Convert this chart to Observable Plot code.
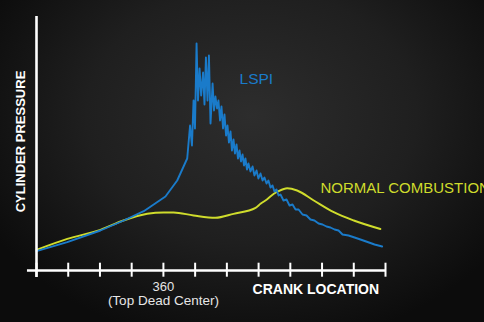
<!DOCTYPE html>
<html><head><meta charset="utf-8">
<script src="https://cdn.jsdelivr.net/npm/d3@7"></script>
<script src="https://cdn.jsdelivr.net/npm/@observablehq/plot@0.6"></script>
<style>
html,body{margin:0;padding:0;background:#0e0e0e;}
#chart{width:484px;height:322px;overflow:hidden;background:radial-gradient(ellipse 62% 72% at 52% 36%, #2d2d2d 0%, #1f1f1f 55%, #0c0c0c 100%);}
</style></head><body><div id="chart"></div>
<script>
// Crank location (degrees) and cylinder pressure (arbitrary units)
const lspiCrank = [280,299.4,320.3,335.0,347.6,361.3,368.7,375.0,376.8,378.0,379.0,379.9,380.9,381.8,382.8,383.8,385.0,385.9,386.8,387.8,388.7,389.7,391.0,391.9,392.8,393.8,394.7,395.7,396.6,397.6,398.5,399.5,400.4,401.3,402.3,403.2,404.2,405.1,406.1,407.0,408.0,408.9,409.9,410.8,411.7,412.7,413.6,414.9,416.2,417.4,418.7,419.9,421.2,422.5,423.7,425.0,426.2,427.5,428.8,430.0,431.3,432.6,433.8,435.7,437.6,439.5,441.4,443.3,445.2,447.7,450.2,452.7,455.2,457.8,460.3,462.8,465.3,467.9,470.4,472.9,476.7,480.5,484.2,488.7,493.1,497.9];
const lspiPressure = [19.3,28.3,40,50,59.3,74,90,112,145,125,170,142,227,170,202,175,198,166,213,170,215,147,187,160,174,162,170,150,164,142,156,135,145,128,139,120,131,117,126,112,120,109,116,105,112,101,107,99,104,95,100,92,97,90,93,87,90,83,85,79,81,75,76,70,71,65,66,61,61,56,55,51,50,47,46,44,43,41,40,36,35,33,31,28.5,26,24];
const normalCrank = [280,299.4,320.3,334.8,349.8,360.2,366.4,379.0,392.8,404.2,418.1,421.2,425.4,429.6,432.5,438.0,444.3,454.8,467.4,480.0,496.8];
const normalPressure = [20.7,31.7,40.7,50,56.7,58,58,55,52.7,56.7,62.7,66.7,71.3,76.7,79.3,82.3,80,70,58.3,50,41.5];
const crankTicks = [280,300,320,340,360,380,400,420,440,460,480,500];
const tdcCrank = 360;
const tdcLabel = ["360", "(Top Dead Center)"];
const xTitle = "CRANK LOCATION";
const yTitle = "CYLINDER PRESSURE";
const seriesNames = ["LSPI", "NORMAL COMBUSTION"];

const lspi = lspiCrank.map((c, i) => ({crank: c, pressure: lspiPressure[i]}));
const normal = normalCrank.map((c, i) => ({crank: c, pressure: normalPressure[i]}));

const BLUE = "#1a7bca";
const YELLOW = "#cfdc2c";
const FONT = "'Liberation Sans', Arial, Helvetica, sans-serif";

const chart = Plot.plot({
  width: 484,
  height: 322,
  marginLeft: 36,
  marginRight: 99,
  marginTop: 16,
  marginBottom: 52,
  x: {domain: [280, 500], axis: null},
  y: {domain: [0, 254], axis: null},
  style: {background: "transparent", fontFamily: FONT, overflow: "visible"},
  marks: [
    Plot.line(normal, {x: "crank", y: "pressure", stroke: YELLOW, strokeWidth: 1.9, curve: "monotone-x"}),
    Plot.line(lspi, {x: "crank", y: "pressure", stroke: BLUE, strokeWidth: 1.9, curve: "linear", strokeLinejoin: "round"}),
    Plot.ruleY([0], {x1: 274.3, x2: 500, stroke: "white", strokeWidth: 2.6}),
    Plot.ruleX([280], {y1: -7, y2: 254, stroke: "white", strokeWidth: 2.6}),
    Plot.ruleX(crankTicks, {y1: -6.7, y2: 7.3, stroke: "white", strokeWidth: 2}),
    Plot.text([tdcLabel[0]], {x: tdcCrank, y: -16.5, text: d => d, fill: "#e6e6e6", fontSize: 13, textAnchor: "middle"}),
    Plot.text([tdcLabel[1]], {x: tdcCrank, y: -30.5, text: d => d, fill: "#e6e6e6", fontSize: 13.5, textAnchor: "middle"}),
    Plot.text([xTitle], {x: 416.2, y: -19.3, text: d => d, fill: "white", fontSize: 14, fontWeight: "bold", textAnchor: "start"}),
    Plot.text([yTitle], {frameAnchor: "left", y: 129, dx: -15.3, rotate: -90, text: d => d, fill: "white", fontSize: 13, fontWeight: "bold", textAnchor: "middle"}),
    Plot.text([seriesNames[0]], {x: 408.0, y: 191.7, text: d => d, fill: BLUE, fontSize: 15.5, textAnchor: "start"}),
    Plot.text([seriesNames[1]], {x: 459.0, y: 82.3, text: d => d, fill: YELLOW, fontSize: 15, textAnchor: "start"})
  ]
});
document.getElementById("chart").appendChild(chart);
</script>
</body></html>
